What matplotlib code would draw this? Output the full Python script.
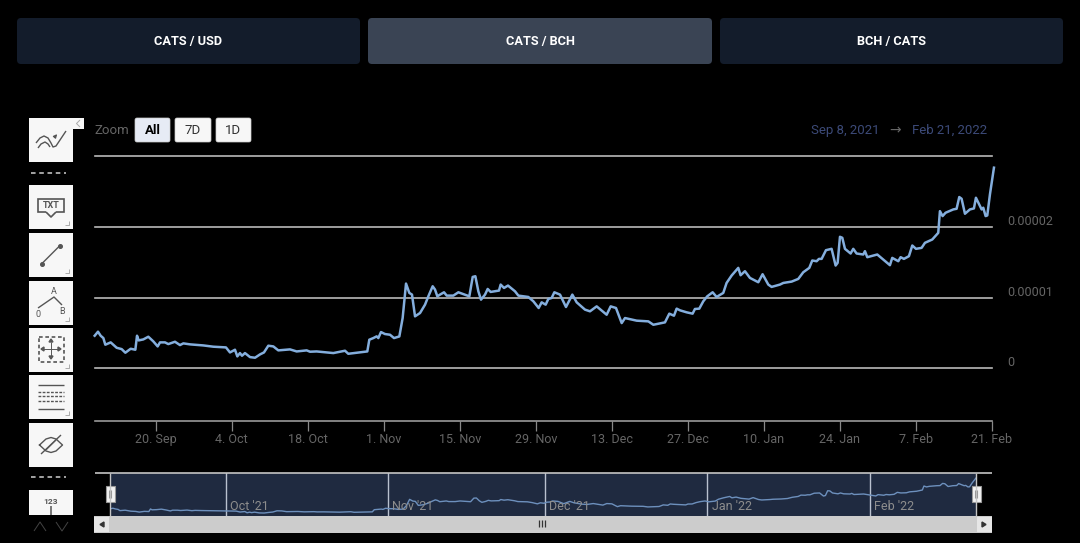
"""CATS / BCH price chart with range selector, on a dark page."""

import matplotlib
matplotlib.use("Agg")
import matplotlib.pyplot as plt
import pandas as pd
from matplotlib.patches import FancyBboxPatch, Rectangle
from matplotlib.transforms import ScaledTranslation

plt.rcParams["font.family"] = ["Roboto", "DejaVu Sans"]

W, H = 1080, 543
START = pd.Timestamp("2021-09-08")

# days since 8 Sep 2021, price in units of 0.00001 BCH
days = [
    0.74, 1.35, 1.84, 2.34, 2.70, 3.69, 4.79, 5.71, 6.39, 7.37, 8.23, 8.54, 8.84, 9.70, 10.62,
    11.54, 12.34, 12.77, 13.69, 14.30, 15.53, 16.45, 17.07, 18.3, 20.75, 22.59, 24.92, 25.66,
    26.58, 27.01, 27.5, 27.87, 28.42, 29.35, 30.27, 31.19, 31.92, 32.72, 33.64, 34.56, 36.71,
    37.94, 39.78, 40.4, 41.62, 44.69, 46.84, 47.45, 49.0, 50.95, 51.32, 52.06, 52.67, 52.98,
    53.47, 54.2, 55.13, 55.87, 56.85, 57.46, 58.08, 58.69, 59.18, 59.74, 60.66, 61.58, 62.19,
    62.99, 63.42, 63.85, 64.34, 65.08, 65.57, 66.8, 67.72, 69.74, 70.36, 70.85, 71.4, 71.89,
    72.63, 73.12, 73.67, 75.2, 75.51, 76.13, 76.86, 78.15, 78.77, 80.6, 81.53, 82.51, 83.06,
    83.8, 84.29, 84.9, 85.4, 86.44, 87.54, 88.71, 89.51, 91.04, 91.96, 93.19, 95.03, 95.77,
    96.75, 97.8, 98.41, 100.56, 102.71, 103.63, 105.77, 106.57, 107.43, 107.92, 108.54, 109.76,
    110.86, 111.29, 112.09, 112.83, 113.56, 114.55, 115.28, 116.51, 117.12, 118.04, 119.27,
    119.7, 120.5, 121.42, 122.96, 123.75, 124.8, 125.41, 126.95, 127.56, 129.1, 130.32, 131.24,
    132.35, 132.9, 133.7, 134.13, 134.62, 135.42, 136.46, 137.2, 137.57, 138.0, 138.43, 138.92,
    139.96, 140.45, 141.06, 142.29, 142.6, 143.03, 144.87, 145.98, 147.2, 147.63, 148.74,
    149.17, 149.78, 150.7, 151.32, 152.0, 153.04, 153.65, 155.0, 156.1, 156.41, 156.9, 157.45,
    158.87, 159.48, 159.97, 160.4, 161.02, 161.93, 162.67, 163.04, 164.09, 164.39, 164.82,
    165.13, 165.62, 166.36,
]
price = [
    0.46, 0.517, 0.46, 0.427, 0.333, 0.366, 0.29, 0.271, 0.22, 0.276, 0.262, 0.46, 0.394, 0.408,
    0.446, 0.38, 0.309, 0.366, 0.366, 0.342, 0.375, 0.328, 0.352, 0.338, 0.323, 0.305, 0.295,
    0.224, 0.262, 0.168, 0.215, 0.177, 0.215, 0.158, 0.149, 0.196, 0.224, 0.319, 0.309, 0.253,
    0.267, 0.238, 0.253, 0.234, 0.238, 0.215, 0.248, 0.205, 0.22, 0.238, 0.404, 0.427, 0.451,
    0.427, 0.512, 0.484, 0.474, 0.427, 0.45, 0.711, 1.197, 1.065, 1.041, 0.734, 0.781, 0.899,
    1.017, 1.159, 1.112, 1.017, 1.041, 1.074, 1.027, 1.027, 1.074, 1.017, 1.291, 1.301, 1.088,
    0.97, 1.041, 1.121, 1.079, 1.098, 1.183, 1.135, 1.169, 1.088, 1.027, 1.008, 0.947, 0.852,
    0.932, 0.899, 0.98, 0.994, 1.074, 1.041, 0.866, 1.041, 0.932, 0.829, 0.805, 0.875, 0.757,
    0.875, 0.852, 0.639, 0.71, 0.673, 0.663, 0.615, 0.649, 0.772, 0.743, 0.843, 0.819, 0.791,
    0.772, 0.838, 0.843, 0.947, 1.017, 1.074, 1.008, 1.065, 1.206, 1.31, 1.419, 1.315, 1.372,
    1.277, 1.216, 1.329, 1.183, 1.15, 1.183, 1.206, 1.225, 1.263, 1.357, 1.419, 1.523, 1.513,
    1.546, 1.546, 1.669, 1.688, 1.452, 1.49, 1.858, 1.844, 1.688, 1.622, 1.688, 1.622, 1.608,
    1.655, 1.57, 1.608, 1.537, 1.457, 1.56, 1.513, 1.57, 1.546, 1.584, 1.735, 1.688, 1.702,
    1.773, 1.82, 1.914, 2.221, 2.151, 2.198, 2.245, 2.254, 2.42, 2.396, 2.184, 2.245, 2.259,
    2.41, 2.245, 2.269, 2.151, 2.16, 2.457, 2.835,
]

tick_dates = ["2021-09-20", "2021-10-04", "2021-10-18", "2021-11-01", "2021-11-15", "2021-11-29",
              "2021-12-13", "2021-12-27", "2022-01-10", "2022-01-24", "2022-02-07", "2022-02-21"]
tick_labels = ["20. Sep", "4. Oct", "18. Oct", "1. Nov", "15. Nov", "29. Nov",
               "13. Dec", "27. Dec", "10. Jan", "24. Jan", "7. Feb", "21. Feb"]
y_ticks = [0, 1, 2, 3]
y_labels = ["0", "0.00001", "0.00002", ""]
nav_months = ["2021-10-01", "2021-11-01", "2021-12-01", "2022-01-01", "2022-02-01"]
nav_labels = ["Oct '21", "Nov '21", "Dec '21", "Jan '22", "Feb '22"]
pair_buttons = ["CATS / USD", "CATS / BCH", "BCH / CATS"]
zoom_buttons = ["All", "7D", "1D"]

LINE = "#84aedd"
GRID = "#b8b8b8"
TEXT = "#666666"
ICON = "#f7f7f7"
GLYPH = "#555555"


def axes_px(fig, left, top, right, bottom):
    return fig.add_axes([left / W, 1 - bottom / H, (right - left) / W, (bottom - top) / H])


def to_date(d):
    return START + pd.Timedelta(days=d)


dates = START + pd.to_timedelta(days, unit="D")

fig = plt.figure(figsize=(W / 100, H / 100), dpi=100, facecolor="black")

# main chart
ax = axes_px(fig, 95, 156, 992, 421)
ax.set_facecolor("black")
ax.plot(dates, price, color=LINE, lw=1.8, clip_on=False, solid_joinstyle="round", zorder=3)
ax.set_xlim(to_date(0.8), to_date(166.0))
ax.set_ylim(-0.745, 3.0)
for side in ("top", "left", "right"):
    ax.spines[side].set_visible(False)
ax.spines["bottom"].set_color("#999999")
ax.spines["bottom"].set_linewidth(1.2)
ax.set_xticks(pd.to_datetime(tick_dates), labels=tick_labels)
ax.tick_params(axis="x", length=7.2, width=0.9, color="#888888", labelcolor=TEXT,
               labelsize=9, pad=1.2)
ax.yaxis.tick_right()
ax.set_yticks(y_ticks, labels=y_labels)
ax.tick_params(axis="y", length=0, labelcolor=TEXT, labelsize=9, pad=10.8)
shift_down = ScaledTranslation(0, -1.2 / 100, fig.dpi_scale_trans)
for lab in ax.get_yticklabels():
    lab.set_va("bottom")
    lab.set_transform(lab.get_transform() + shift_down)
ax.grid(axis="y", color=GRID, lw=1.2, clip_on=False)
ax.set_axisbelow(True)

# navigator
nav = axes_px(fig, 110, 473, 976, 516)
nav.set_facecolor("#1f2a40")
nav.plot(dates, price, color="#6d90bd", lw=1.0, zorder=3)
nav.set_xlim(to_date(0.8), to_date(166.36))
nav.set_ylim(-0.08, 3.22)
nav.set_yticks([])
nav.set_xticks(pd.to_datetime(nav_months), labels=[])
nav.tick_params(axis="x", length=0)
nav.grid(axis="x", color="#b9c1cf", lw=1.0)
nav.set_axisbelow(True)
for spine in nav.spines.values():
    spine.set_visible(False)
for month, label in zip(nav_months, nav_labels):
    nav.annotate(label, xy=(pd.Timestamp(month), 0), xycoords=("data", "axes fraction"),
                 xytext=(3, 2.5), textcoords="offset points", color="#8d8d8d", fontsize=9,
                 ha="left", va="bottom")

# page furniture in pixel coordinates
ui = fig.add_axes([0, 0, 1, 1], zorder=10)
ui.set_xlim(0, W)
ui.set_ylim(H, 0)
ui.axis("off")
ui.patch.set_alpha(0)


def box(x0, y0, x1, y1, color, radius=3, edge="none", lw=0):
    ui.add_patch(FancyBboxPatch((x0, y0), x1 - x0, y1 - y0,
                                boxstyle=f"round,pad=0,rounding_size={radius}",
                                fc=color, ec=edge, lw=lw))


def rect(x0, y0, x1, y1, color, edge="none", lw=0):
    ui.add_patch(Rectangle((x0, y0), x1 - x0, y1 - y0, fc=color, ec=edge, lw=lw))


def seg(xs, ys, color=GLYPH, lw=1.0, **kw):
    ui.plot(xs, ys, color=color, lw=lw, solid_capstyle="butt", **kw)


# pair selector
spans = [(17, 360, "#131c2b"), (368, 712, "#3a4454"), (720, 1063, "#131c2b")]
for (x0, x1, col), name in zip(spans, pair_buttons):
    box(x0, 18, x1, 64, col, radius=4)
    ui.text((x0 + x1) / 2, 41, name, color="white", fontsize=9.2, fontweight="bold",
            ha="center", va="center")

# range selector
ui.text(94.5, 130.5, "Zoom", color=TEXT, fontsize=9.5, va="center")
zoom_spans = [(135, 170, "#e6ebf5"), (175, 211, ICON), (216, 251, ICON)]
for (x0, x1, col), name in zip(zoom_spans, zoom_buttons):
    box(x0, 118, x1, 142, col, radius=2, edge="#cccccc", lw=0.5)
    active = name == "All"
    ui.text((x0 + x1) / 2, 130.5, name, color="black" if active else "#333333", fontsize=9.5,
            fontweight="bold" if active else "normal", ha="center", va="center")
ui.text(811, 130.5, "Sep 8, 2021", color="#3c4a78", fontsize=9.5, va="center")
ui.text(895, 130, "→", color=TEXT, fontsize=10, ha="center", va="center", family="DejaVu Sans")
ui.text(987, 130.5, "Feb 21, 2022", color="#3c4a78", fontsize=9.5, ha="right", va="center")

# navigator frame and handles
seg([95, 992], [472.5, 472.5], color="#c4c4c4", lw=1.2)
for x in (110, 976):
    seg([x, x], [473, 516], color="#c4c4c4", lw=1.0)
    rect(x - 4.5, 486, x + 4.5, 502, "#f2f2f2", edge="#999999", lw=0.8)
    seg([x - 1.2, x - 1.2], [490, 498], color="#999999", lw=0.8)
    seg([x + 1.2, x + 1.2], [490, 498], color="#999999", lw=0.8)

# scrollbar
rect(94, 516, 992, 533, "#cccccc")
rect(94, 517, 109, 532, "#e6e6e6")
rect(977, 517, 992, 532, "#e6e6e6")
ui.fill([104, 104, 100], [522, 527, 524.5], color="#333333")
ui.fill([982, 982, 986], [522, 527, 524.5], color="#333333")
for x in (539, 542, 545):
    seg([x, x], [520, 527], color="#333333", lw=0.9)

# drawing toolbar
icon_rows = [(118, 162), (185, 229), (233, 277), (281, 325), (328, 372), (375, 419), (423, 467)]
for y0, y1 in icon_rows:
    rect(29, y0, 73, y1, ICON)
rect(29, 490, 73, 515, ICON)
rect(73, 118, 84, 129, ICON)
seg([80, 76.5, 80], [120, 123.5, 127], color="#aaaaaa", lw=0.7)
for y1 in (229, 277, 325, 372, 419):
    seg([65, 69, 69], [y1 - 4, y1 - 4, y1 - 8], color="#aaaaaa", lw=0.7)
for y in (173, 477):
    ui.plot([31, 66], [y, y], color="#cfcfcf", lw=1.1, dashes=(3, 2.4))

# indicators
seg([36, 40, 44, 48, 51, 53, 56, 60, 66], [143, 138, 136, 138, 143, 147, 146, 140, 131], lw=1.0)
seg([38, 41, 45, 48, 50], [148, 144, 142, 144, 147], lw=1.0)
ui.annotate("", xy=(59, 132), xytext=(53, 139),
            arrowprops=dict(arrowstyle="-|>", color=GLYPH, lw=0.9, mutation_scale=5))
# text
ui.add_patch(Rectangle((38, 199), 26, 13, fc="none", ec=GLYPH, lw=1.2))
rect(46, 211, 56, 214, ICON)
seg([46, 51, 56], [212, 217, 212], lw=1.2)
ui.text(51, 206, "TXT", color=GLYPH, fontsize=6.5, fontweight="bold", ha="center", va="center")
# segment
seg([41.5, 60], [264, 245.5], lw=1.0)
ui.plot([41.5, 60], [264, 245.5], "o", color=GLYPH, ms=2.6)
# fibonacci
seg([38, 54, 62], [308, 297, 305], lw=1.0)
ui.text(54, 291.5, "A", color=GLYPH, fontsize=6.5, ha="center", va="center")
ui.text(38.5, 314.5, "0", color=GLYPH, fontsize=6.5, ha="center", va="center")
ui.text(62, 311.5, "B", color=GLYPH, fontsize=6.5, ha="center", va="center")
# measure
ui.plot([38.5, 64, 64, 38.5, 38.5], [336.5, 336.5, 361.5, 361.5, 336.5], color=GLYPH, lw=1.2,
        dashes=(2.2, 1.6))
seg([51, 51], [342, 356], lw=0.7)
seg([43, 59], [349, 349], lw=0.7)
ui.fill([49, 53, 51], [342, 342, 339], color=GLYPH)
ui.fill([49, 53, 51], [356, 356, 359], color=GLYPH)
ui.fill([44, 44, 41], [347, 351, 349], color=GLYPH)
ui.fill([58, 58, 61], [347, 351, 349], color=GLYPH)
# table
seg([38, 64], [385, 385], lw=1.0)
seg([38, 64], [408.5, 408.5], lw=1.0)
for y in (391.5, 396, 401):
    ui.plot([38, 64], [y, y], color=GLYPH, lw=1.0, dashes=(2, 1))
# hide
ui.plot([39.5, 46, 51, 56, 62.5, 56, 51, 46, 39.5], [445, 439, 437.5, 439, 445, 451, 452.5, 451, 445],
        color=GLYPH, lw=1.0)
seg([41, 61], [454, 435], lw=1.0)
seg([46, 56], [450, 440], lw=0.8)
# volume
ui.text(51, 501, "123", color=GLYPH, fontsize=6, fontweight="bold", ha="center", va="center")
seg([50.5, 50.5], [506, 515], lw=1.1)
# toolbar paging
seg([34, 40, 46], [531, 522, 531], color="#444444", lw=0.7)
seg([56, 62, 68], [522, 531, 522], color="#444444", lw=0.7)

fig.savefig("out.png", dpi=100, facecolor="black")
plt.close(fig)
